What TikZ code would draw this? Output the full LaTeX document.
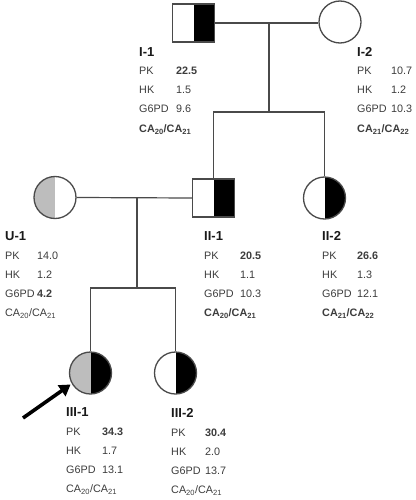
\documentclass[tikz,border=0pt]{standalone}
\usepackage{fontspec}
\setmainfont{Liberation Sans}
\usetikzlibrary{arrows.meta,calc,backgrounds}
\definecolor{txtgray}{HTML}{3C3C3C}
\definecolor{linegray}{HTML}{4A4A4A}
\definecolor{halfgray}{HTML}{BDBDBD}
\newcommand\pedblock[9]{%
  % #1 name, #2 x, #3 y, #4 heading, #5 value offset, #6 pk, #7 hk, #8 g6pd, #9 ca
  \node[headtxt] (#1h) at (#2,#3) {#4};
  \node[datatxt] (#1pkl) at (#2,#3+20) {PK};
  \node[datatxt] (#1pkv) at (#2+#5,#3+20) {#6};
  \node[datatxt] (#1hkl) at (#2,#3+39) {HK};
  \node[datatxt] (#1hkv) at (#2+#5,#3+39) {#7};
  \node[datatxt] (#1gl) at (#2,#3+58) {G6PD};
  \node[datatxt] (#1gv) at (#2+#5,#3+58) {#8};
  \node[datatxt] (#1ca) at (#2,#3+77.5) {#9};
}
\begin{document}
\begin{tikzpicture}[x=1pt,y=-1pt,
  conn/.style={draw=linegray,line width=1.2pt},
  sqbox/.style={rectangle,draw=linegray,line width=1.3pt,fill=white,minimum width=42pt,minimum height=38pt,inner sep=0pt},
  circbox/.style={circle,draw=linegray,line width=1.3pt,fill=white,minimum size=42pt,inner sep=0pt},
  rightblack/.style={path picture={\fill[black] (path picture bounding box.north) rectangle (path picture bounding box.south east);}},
  leftgray/.style={path picture={\fill[halfgray] (path picture bounding box.north) rectangle (path picture bounding box.south west);}},
  bothhalves/.style={path picture={\fill[halfgray] (path picture bounding box.north) rectangle (path picture bounding box.south west);\fill[black] (path picture bounding box.north) rectangle (path picture bounding box.south east);}},
  headtxt/.style={anchor=west,inner sep=0pt,font=\fontsize{13}{15}\selectfont\bfseries,text=black!90},
  datatxt/.style={anchor=west,inner sep=0pt,font=\fontsize{10.8}{13}\selectfont,text=txtgray,text height=8pt,text depth=2pt},
  pointer/.style={line width=3.6pt,draw=black,-{Triangle[length=11pt,width=13pt]}}
]
\useasboundingbox (0,0) rectangle (415,500);
% junction points
\coordinate (m1) at (269,23);
\coordinate (s1) at (269,112);
\coordinate (m2) at (137,197.5);
\coordinate (s2) at (137,288);
\coordinate (arrowtail) at (23,418);
% generation I
\node[sqbox,rightblack] (sqI1) at (193.5,23) {};
\node[circbox] (cI2) at (340,22) {};
% generation II
\node[circbox,leftgray] (cU1) at (55,197.5) {};
\node[sqbox,rightblack] (sqII1) at (213.5,198) {};
\node[circbox,rightblack] (cII2) at (324.5,198) {};
% generation III
\node[circbox,bothhalves] (cIII1) at (90.5,373) {};
\node[circbox,rightblack] (cIII2) at (175.5,373) {};
% connectors behind the symbols
\begin{scope}[on background layer]
\draw[conn] (sqI1.east) -- (cI2.west |- sqI1.east);
\draw[conn] (m1) -- (s1);
\draw[conn] (sqII1.north) |- (s1) -| (cII2.north);
\draw[conn] (cU1.east) -- (sqII1.west);
\draw[conn] (m2) -- (s2);
\draw[conn] (cIII1.north) |- (s2) -| (cIII2.north);
\end{scope}
% proband arrow
\draw[pointer] (arrowtail) -- ($(cIII1.center)+(-150:23pt)$);
% data blocks
\pedblock{a}{139}{52}{I-1}{37}{\textbf{22.5}}{1.5}{9.6}{\textbf{CA\textsubscript{20}/CA\textsubscript{21}}}
\pedblock{b}{357}{52}{I-2}{34}{10.7}{1.2}{10.3}{\textbf{CA\textsubscript{21}/CA\textsubscript{22}}}
\pedblock{c}{5}{236}{U-1}{32}{14.0}{1.2}{\textbf{4.2}}{CA\textsubscript{20}/CA\textsubscript{21}}
\pedblock{d}{204}{236}{II-1}{36}{\textbf{20.5}}{1.1}{10.3}{\textbf{CA\textsubscript{20}/CA\textsubscript{21}}}
\pedblock{e}{322}{236}{II-2}{35}{\textbf{26.6}}{1.3}{12.1}{\textbf{CA\textsubscript{21}/CA\textsubscript{22}}}
\pedblock{f}{66}{412}{III-1}{36}{\textbf{34.3}}{1.7}{13.1}{CA\textsubscript{20}/CA\textsubscript{21}}
\pedblock{g}{171}{413}{III-2}{34}{\textbf{30.4}}{2.0}{13.7}{CA\textsubscript{20}/CA\textsubscript{21}}
\end{tikzpicture}
\end{document}
